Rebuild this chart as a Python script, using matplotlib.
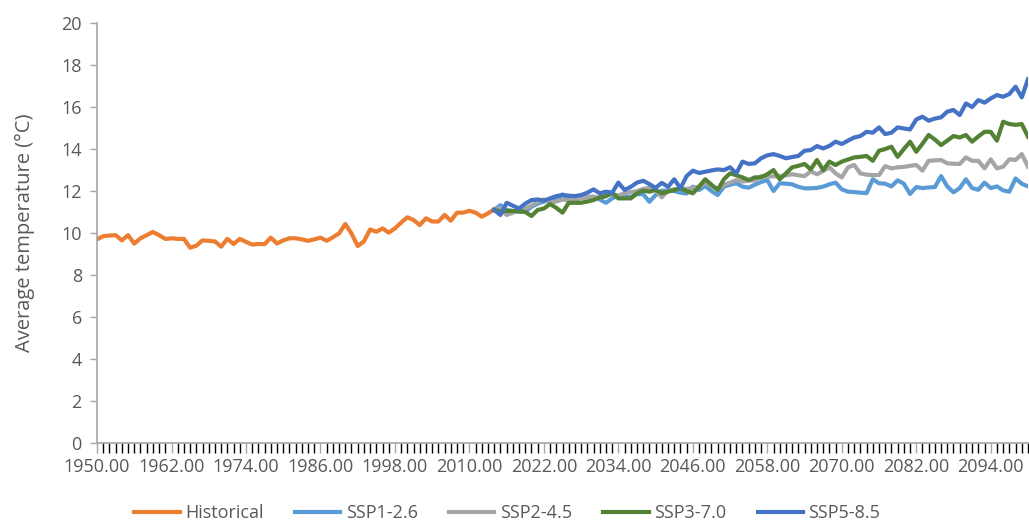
import matplotlib
matplotlib.use("Agg")
import matplotlib.pyplot as plt
import numpy as np

plt.rcParams['font.family'] = ['Open Sans', 'DejaVu Sans']

# Historical 1950-2014
hist_start = 1950
historical = [
    9.70, 9.85, 9.88, 9.90, 9.65, 9.90, 9.50, 9.75, 9.90, 10.05,
    9.90, 9.72, 9.75, 9.72, 9.72, 9.30, 9.40, 9.65, 9.63, 9.60,
    9.35, 9.72, 9.48, 9.72, 9.58, 9.45, 9.48, 9.47, 9.78, 9.50,
    9.65, 9.75, 9.75, 9.70, 9.63, 9.70, 9.78, 9.63, 9.80, 9.98,
    10.43, 9.98, 9.38, 9.60, 10.17, 10.06, 10.22, 10.02, 10.22, 10.50,
    10.75, 10.62, 10.38, 10.70, 10.55, 10.55, 10.86, 10.59, 10.97, 10.97,
    11.06, 10.97, 10.78, 10.94, 11.13,
]

# Scenarios 2014-2100
ssp_start = 2014
ssp126 = [
    11.10, 11.33, 11.10, 11.05, 11.00, 11.02, 11.25, 11.40, 11.50, 11.55,
    11.60, 11.84, 11.65, 11.68, 11.70, 11.72, 11.73, 11.60, 11.44, 11.65,
    11.80, 11.75, 11.72, 11.85, 11.85, 11.49, 11.81, 12.02, 12.02, 12.00,
    11.92, 11.88, 12.21, 12.05, 12.24, 12.00, 11.81, 12.21, 12.30, 12.37,
    12.21, 12.16, 12.30, 12.43, 12.52, 12.00, 12.37, 12.35, 12.32, 12.20,
    12.13, 12.13, 12.15, 12.21, 12.32, 12.40, 12.08, 11.97, 11.95, 11.92,
    11.90, 12.56, 12.37, 12.35, 12.22, 12.51, 12.35, 11.86, 12.19, 12.14,
    12.17, 12.19, 12.71, 12.22, 11.94, 12.14, 12.56, 12.14, 12.06, 12.40,
    12.14, 12.22, 12.03, 11.97, 12.60, 12.35, 12.22,
]
ssp245 = [
    11.10, 11.18, 10.86, 10.97, 11.05, 11.17, 11.30, 11.49, 11.60, 11.45,
    11.50, 11.60, 11.55, 11.60, 11.65, 11.70, 11.72, 11.68, 11.80, 11.85,
    11.78, 11.90, 11.95, 12.00, 12.10, 12.15, 12.05, 11.70, 12.02, 12.08,
    12.10, 12.10, 12.15, 12.20, 12.40, 12.25, 12.10, 12.30, 12.40, 12.52,
    12.45, 12.50, 12.50, 12.71, 12.68, 12.70, 12.71, 12.75, 12.80, 12.75,
    12.71, 12.94, 12.80, 12.95, 13.13, 12.84, 12.65, 13.13, 13.24, 12.84,
    12.78, 12.76, 12.76, 13.19, 13.08, 13.13, 13.15, 13.20, 13.24, 12.97,
    13.44, 13.46, 13.48, 13.32, 13.30, 13.29, 13.60, 13.44, 13.44, 13.08,
    13.51, 13.08, 13.16, 13.51, 13.48, 13.76, 13.16,
]
ssp370 = [
    11.10, 11.03, 11.05, 11.05, 11.05, 11.00, 10.81, 11.10, 11.17, 11.38,
    11.20, 10.97, 11.44, 11.44, 11.44, 11.50, 11.57, 11.70, 11.75, 11.92,
    11.65, 11.65, 11.65, 11.89, 12.02, 11.97, 12.05, 11.89, 11.97, 12.05,
    12.13, 12.00, 11.89, 12.21, 12.56, 12.30, 12.05, 12.56, 12.84, 12.75,
    12.65, 12.52, 12.65, 12.65, 12.80, 13.00, 12.56, 12.84, 13.13, 13.20,
    13.29, 13.03, 13.48, 13.00, 13.40, 13.24, 13.40, 13.50, 13.60, 13.63,
    13.67, 13.44, 13.92, 14.00, 14.11, 13.63, 14.00, 14.35, 13.87, 14.25,
    14.67, 14.45, 14.19, 14.40, 14.62, 14.55, 14.67, 14.35, 14.60, 14.82,
    14.82, 14.40, 15.30, 15.19, 15.15, 15.19, 14.59,
]
ssp585 = [
    11.10, 10.86, 11.44, 11.30, 11.17, 11.40, 11.57, 11.60, 11.54, 11.65,
    11.76, 11.81, 11.78, 11.76, 11.81, 11.92, 12.08, 11.89, 11.97, 11.92,
    12.40, 12.05, 12.20, 12.40, 12.49, 12.33, 12.15, 12.39, 12.20, 12.56,
    12.13, 12.71, 12.97, 12.86, 12.92, 12.98, 13.03, 13.00, 13.13, 12.84,
    13.40, 13.29, 13.32, 13.56, 13.70, 13.76, 13.67, 13.56, 13.62, 13.67,
    13.92, 13.95, 14.14, 14.03, 14.15, 14.35, 14.24, 14.40, 14.55, 14.62,
    14.82, 14.78, 15.03, 14.71, 14.78, 15.03, 14.98, 14.93, 15.41, 15.54,
    15.35, 15.45, 15.51, 15.78, 15.86, 15.62, 16.17, 16.00, 16.33, 16.21,
    16.41, 16.57, 16.49, 16.62, 16.97, 16.46, 17.32,
]

series = [
    ('Historical', hist_start, historical, '#ED7D31'),
    ('SSP1-2.6', ssp_start, ssp126, '#5B9BD5'),
    ('SSP2-4.5', ssp_start, ssp245, '#A5A5A5'),
    ('SSP3-7.0', ssp_start, ssp370, '#548235'),
    ('SSP5-8.5', ssp_start, ssp585, '#4472C4'),
]

text_col = '#595959'
axis_col = '#A6A6A6'

fig = plt.figure(figsize=(10.29, 5.2), dpi=100)
ax = fig.add_axes([0.0943, 0.148, 0.9047, 0.8077])

for name, start, vals, col in series:
    yrs = np.arange(start, start + len(vals))
    ax.plot(yrs, vals, color=col, lw=3, label=name, solid_joinstyle='round')

ax.set_xlim(1950, 2100)
ax.set_ylim(0, 20)
ax.set_yticks(np.arange(0, 21, 2))
ax.set_xticks(np.arange(1950, 2100, 12))
ax.set_xticklabels([f'{y:.2f}' for y in np.arange(1950, 2100, 12)])
ax.set_xticks(np.arange(1950, 2101, 1), minor=True)

ax.tick_params(axis='both', colors=axis_col, labelcolor=text_col, labelsize=13)
ax.tick_params(axis='x', which='both', length=7, width=1, direction='out', pad=4)
ax.tick_params(axis='y', length=5, width=1, pad=6)

for s in ['top', 'right']:
    ax.spines[s].set_visible(False)
for s in ['left', 'bottom']:
    ax.spines[s].set_color(axis_col)
    ax.spines[s].set_linewidth(1.2)

ax.set_ylabel('Average temperature (°C)', color=text_col, fontsize=14.5)
ax.yaxis.set_label_coords(-0.067, 0.5)

fig.legend(loc='lower center', bbox_to_anchor=(0.493, -0.035), ncol=5, frameon=False,
           fontsize=13, labelcolor=text_col, handlelength=2.5, handletextpad=0.3,
           columnspacing=1.75)

fig.savefig('out.png', dpi=100)
